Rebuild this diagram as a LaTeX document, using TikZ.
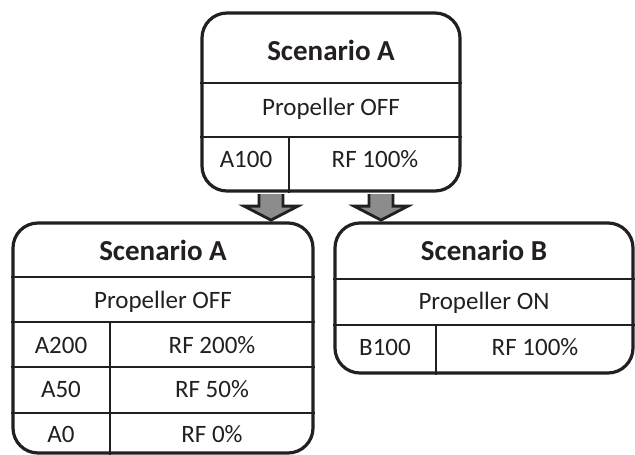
\documentclass[tikz,border=0pt]{standalone}
\usepackage{fontspec}
\setmainfont{Carlito}
\definecolor{ink}{HTML}{231F20}
\definecolor{arrowgray}{HTML}{8C8C8C}
\tikzset{
  box/.style={draw=ink, line width=3.2pt, rounded corners=25pt, inner sep=0pt},
  rule/.style={draw=ink, line width=1.6pt},
  title/.style={anchor=base, text=ink, inner sep=0pt, font=\bfseries\fontsize{29}{32}\selectfont},
  cell/.style={anchor=base, text=ink, inner sep=0pt, font=\fontsize{25}{28}\selectfont},
  downarrow/.pic={
    \draw[draw=ink, line width=2.8pt, fill=arrowgray, line join=miter]
      (-12,0) -- (-12,12) -- (-27,12) -- (0,26) -- (27,12) -- (12,12) -- (12,0);
  }
}

\begin{document}
\begin{tikzpicture}[x=1pt, y=-1pt]
\useasboundingbox (0,0) rectangle (635,455);

\node[box, minimum width=258pt, minimum height=178pt] (topA) at (331,102) {};
\node[box, minimum width=300pt, minimum height=230pt] (leftA) at (163,338) {};
\node[box, minimum width=298pt, minimum height=150pt] (rightB) at (484,298) {};

\pic at ([yshift=-1.5pt]topA.south -| 271,0) {downarrow};
\pic at ([yshift=-1.5pt]topA.south -| 381,0) {downarrow};

\foreach \y in {83,137}
  \draw[rule] (topA.west |- 0,\y) -- (topA.east |- 0,\y);
\draw[rule] (289,137) -- (topA.south -| 289,0);
\foreach \y in {277,322,367,413}
  \draw[rule] (leftA.west |- 0,\y) -- (leftA.east |- 0,\y);
\draw[rule] (110,322) -- (leftA.south -| 110,0);
\foreach \y in {279,325}
  \draw[rule] (rightB.west |- 0,\y) -- (rightB.east |- 0,\y);
\draw[rule] (436,325) -- (rightB.south -| 436,0);

\node[title] (topA-title) at (331,60) {Scenario A};
\node[cell] (topA-mode) at (331,115) {Propeller OFF};
\node[cell] (topA-run) at (246,167) {A100};
\node[cell] (topA-rf) at (375,167) {RF 100\%};

\node[title] (leftA-title) at (163,260) {Scenario A};
\node[cell] (leftA-mode) at (163,308) {Propeller OFF};
\node[cell] (leftA-run1) at (61,353) {A200};
\node[cell] (leftA-rf1) at (212,353) {RF 200\%};
\node[cell] (leftA-run2) at (61,397) {A50};
\node[cell] (leftA-rf2) at (212,397) {RF 50\%};
\node[cell] (leftA-run3) at (61,442) {A0};
\node[cell] (leftA-rf3) at (212,442) {RF 0\%};

\node[title] (rightB-title) at (484,260) {Scenario B};
\node[cell] (rightB-mode) at (484,309) {Propeller ON};
\node[cell] (rightB-run) at (385,355) {B100};
\node[cell] (rightB-rf) at (535,355) {RF 100\%};
\end{tikzpicture}
\end{document}
